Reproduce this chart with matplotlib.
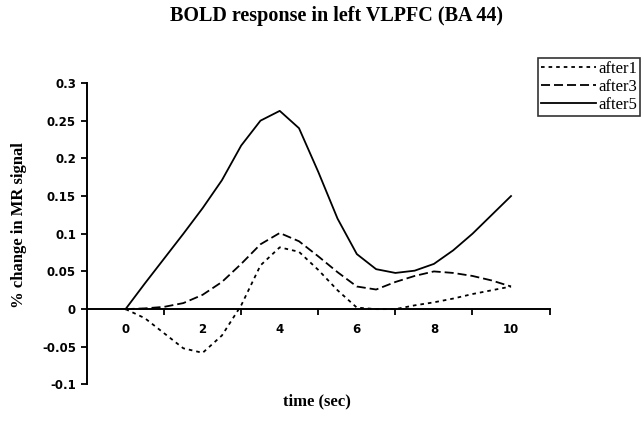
import matplotlib
matplotlib.use("Agg")
import matplotlib.pyplot as plt
from matplotlib.ticker import FixedLocator, FuncFormatter

# time points (sec) and % signal change
time = [0, 0.5, 1, 1.5, 2, 2.5, 3, 3.5, 4, 4.5, 5, 5.5, 6, 6.5, 7, 7.5, 8, 8.5, 9, 9.5, 10]
after1 = [0, -0.012, -0.032, -0.052, -0.058, -0.035, 0.005, 0.058, 0.082, 0.076, 0.052,
          0.025, 0.002, 0, 0, 0.005, 0.009, 0.014, 0.020, 0.025, 0.030]
after3 = [0, 0.001, 0.003, 0.008, 0.019, 0.036, 0.060, 0.086, 0.101, 0.090, 0.070,
          0.049, 0.030, 0.026, 0.036, 0.044, 0.050, 0.048, 0.044, 0.038, 0.030]
after5 = [0, 0.034, 0.067, 0.100, 0.134, 0.171, 0.217, 0.250, 0.263, 0.240, 0.182,
          0.120, 0.073, 0.053, 0.048, 0.051, 0.060, 0.078, 0.100, 0.125, 0.150]

yticks = [-0.1, -0.05, 0, 0.05, 0.1, 0.15, 0.2, 0.25, 0.3]
xlabels = [0, 2, 4, 6, 8, 10]

serif = "Liberation Serif"
sans = "DejaVu Sans"

fig = plt.figure(figsize=(6.43, 4.21), dpi=100)
ax = fig.add_axes([0.1353, 0.0867, 0.7194, 0.7162])

l1, = ax.plot(time, after1, color="black", lw=1.3, dashes=(2, 2.2), label="after1")
l3, = ax.plot(time, after3, color="black", lw=1.3, dashes=(5, 2.2), label="after3")
l5, = ax.plot(time, after5, color="black", lw=1.3, label="after5")

ax.set_xlim(-1, 11)
ax.set_ylim(-0.1, 0.3)

ax.spines["top"].set_visible(False)
ax.spines["right"].set_visible(False)
ax.spines["bottom"].set_position(("data", 0))
ax.spines["left"].set_linewidth(1.4)
ax.spines["bottom"].set_linewidth(1.4)

ax.yaxis.set_major_locator(FixedLocator(yticks))
ax.yaxis.set_major_formatter(FuncFormatter(lambda v, p: ("%g" % round(v, 2))))
ax.tick_params(axis="y", direction="out", length=4, width=1.3, pad=4)

ax.xaxis.set_major_locator(FixedLocator(xlabels))
ax.xaxis.set_minor_locator(FixedLocator([1, 3, 5, 7, 9, 11]))
ax.tick_params(axis="x", which="major", length=0, pad=10)
ax.tick_params(axis="x", which="minor", direction="out", length=4, width=1.3)

for lab in ax.get_xticklabels() + ax.get_yticklabels():
    lab.set_fontfamily(sans)
    lab.set_fontweight("bold")
    lab.set_fontsize(8.5)

fig.text(336 / 643, 1 - 16 / 421, "BOLD response in left VLPFC (BA 44)", ha="center", va="center",
         family=serif, weight="bold", fontsize=14.5)
fig.text(317 / 643, 1 - 401 / 421, "time (sec)", ha="center", va="center",
         family=serif, weight="bold", fontsize=12)
fig.text(19 / 643, 1 - 225 / 421, "% change in MR signal", ha="center", va="center", rotation=90,
         family=serif, weight="bold", fontsize=12)

leg = fig.legend(handles=[l1, l3, l5], loc="upper left", bbox_to_anchor=(538 / 643, 1 - 58 / 421),
                 prop={"family": serif, "size": 12}, frameon=True, fancybox=False,
                 handlelength=3.3, handletextpad=0.1, borderpad=0.2, labelspacing=0.1,
                 borderaxespad=0)
leg.get_frame().set_edgecolor("black")
leg.get_frame().set_linewidth(1.2)

fig.savefig("out.png", dpi=100)
